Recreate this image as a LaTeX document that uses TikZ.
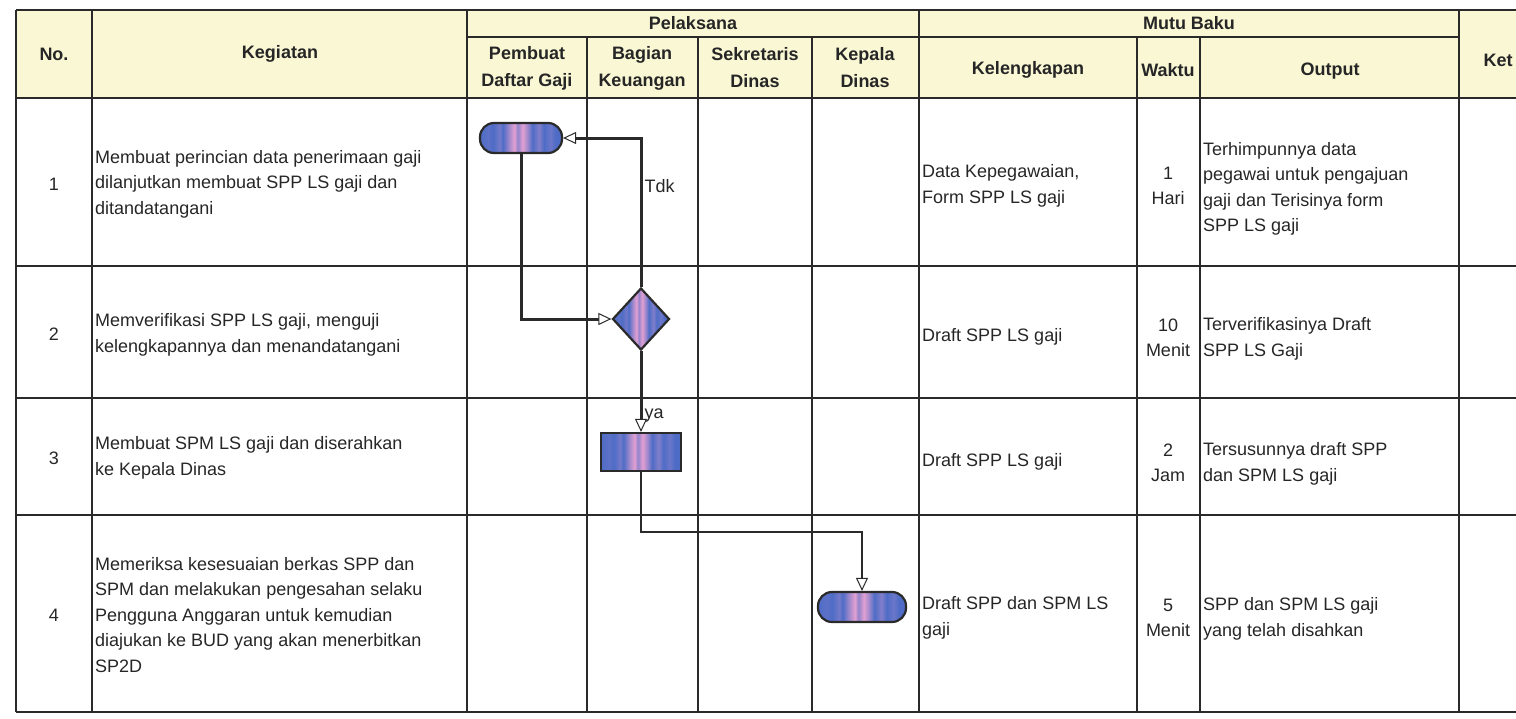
\documentclass[tikz,border=0pt]{standalone}
\usepackage{fontspec}
\setmainfont{Liberation Sans}
\usepackage{tikz}
\usetikzlibrary{positioning}
\usetikzlibrary{arrows.meta,shapes.geometric}

\definecolor{garis}{HTML}{2A2A2A}
\definecolor{kuning}{HTML}{FAF8D4}
\definecolor{biru}{HTML}{4E6CC6}
\definecolor{merahmuda}{HTML}{E2A0D2}

% vertical stripes, as in the scanned flowchart symbols
\pgfdeclarehorizontalshading{garisgaris}{100bp}{%
  color(0bp)=(biru); color(25bp)=(biru); color(30bp)=(biru!90!merahmuda);
  color(33bp)=(biru); color(37bp)=(biru!75!merahmuda); color(39bp)=(biru);
  color(43bp)=(biru!40!merahmuda); color(46bp)=(merahmuda); color(48bp)=(biru!55!merahmuda);
  color(51bp)=(merahmuda); color(54bp)=(biru!45!merahmuda); color(57bp)=(biru);
  color(61bp)=(biru!65!merahmuda); color(64bp)=(biru); color(68bp)=(biru!80!merahmuda);
  color(71bp)=(biru); color(75bp)=(biru); color(100bp)=(biru)}

\tikzset{
  tabel/.style={draw=garis, line width=2.6pt},
  judul/.style={font=\bfseries\fontsize{18}{27}\selectfont, align=center, text=black!85},
  isi/.style={font=\fontsize{18}{25.5}\selectfont, align=left, anchor=west, inner sep=3pt, text=black!85},
  tengah/.style={font=\fontsize{18}{25.5}\selectfont, align=center, text=black!85},
  simbol/.style={draw=garis, line width=2.2pt, shading=garisgaris, inner sep=0pt},
  terminal/.style={simbol, rectangle, rounded corners=14pt, minimum width=88pt, minimum height=30pt},
  proses/.style={simbol, rectangle, minimum width=80pt, minimum height=38pt},
  keputusan/.style={simbol, diamond, minimum width=57pt, minimum height=62pt},
  alur/.style={draw=garis, line width=3pt, -{Triangle[fill=white, length=13pt, width=12pt, line width=1pt]}},
  ket/.style={font=\fontsize{18}{22}\selectfont, text=black!85, inner sep=2pt}
}

\begin{document}
\begin{tikzpicture}[x=1pt, y=-1pt]

	\clip (0,0) rectangle (1516,718);

	% header background
	\fill[kuning] (16,10) rectangle (1550,98);

	% grid of the table
	\draw[tabel] (16,10) -- (1550,10);
	\draw[tabel] (467,37) -- (1459,37);
	\foreach \y in {98,266,398,515,712}
		\draw[tabel] (16,\y) -- (1550,\y);
	\foreach \x in {16,92,467,919,1459}
		\draw[tabel] (\x,10) -- (\x,712);
	\foreach \x in {587,698,812,1137,1200}
		\draw[tabel] (\x,37) -- (\x,712);

	% header
	\node[judul] (hNo)    at (54,54)    {No.};
	\node[judul] (hKeg)   at (280,54)   {Kegiatan};
	\node[judul] (hPel)   at (693,23)   {Pelaksana};
	\node[judul] (hPem)   at (527,68)   {Pembuat\\Daftar Gaji};
	\node[judul] (hBag)   at (642,68)   {Bagian\\Keuangan};
	\node[judul] (hSek)   at (755,68)   {Sekretaris\\Dinas};
	\node[judul] (hKep)   at (865,68)   {Kepala\\Dinas};
	\node[judul] (hMutu)  at (1189,23)  {Mutu Baku};
	\node[judul] (hKel)   at (1028,70)  {Kelengkapan};
	\node[judul] (hWak)   at (1168,70)  {Waktu};
	\node[judul] (hOut)   at (1330,71)  {Output};
	\node[judul] (hKet)   at (1498,60)  {Ket};

	% row numbers
	\node[tengah] (no1) at (54,184) {1};
	\node[tengah] (no2) at (54,334) {2};
	\node[tengah] (no3) at (54,458) {3};
	\node[tengah] (no4) at (54,615) {4};

	% Kegiatan
	\node[isi] (keg1) at (92,184) {Membuat perincian data penerimaan gaji\\dilanjutkan membuat SPP LS gaji dan\\ditandatangani};
	\node[isi] (keg2) at (92,335) {Memverifikasi SPP LS gaji, menguji\\kelengkapannya dan menandatangani};
	\node[isi] (keg3) at (92,458) {Membuat SPM LS gaji dan diserahkan\\ke Kepala Dinas};
	\node[isi] (keg4) at (92,615) {Memeriksa kesesuaian berkas SPP dan\\SPM dan melakukan pengesahan selaku\\Pengguna Anggaran untuk kemudian\\diajukan ke BUD yang akan menerbitkan\\SP2D};

	% Kelengkapan
	\node[isi] (kel1) at (919,186) {Data Kepegawaian,\\Form SPP LS gaji};
	\node[isi] (kel2) at (919,337) {Draft SPP LS gaji};
	\node[isi] (kel3) at (919,462) {Draft SPP LS gaji};
	\node[isi] (kel4) at (919,618) {Draft SPP dan SPM LS\\gaji};

	% Waktu
	\node[tengah] (wak1) at (1168,186) {1\\Hari};
	\node[tengah] (wak2) at (1168,338) {10\\Menit};
	\node[tengah] (wak3) at (1168,463) {2\\Jam};
	\node[tengah] (wak4) at (1168,618) {5\\Menit};

	% Output
	\node[isi] (out1) at (1200,189) {Terhimpunnya data\\pegawai untuk pengajuan\\gaji dan Terisinya form\\SPP LS gaji};
	\node[isi] (out2) at (1200,339) {Terverifikasinya Draft\\SPP LS Gaji};
	\node[isi] (out3) at (1200,464) {Tersusunnya draft SPP\\dan SPM LS gaji};
	\node[isi] (out4) at (1200,619) {SPP dan SPM LS gaji\\yang telah disahkan};

	% flowchart symbols
	\node[terminal, minimum width=82pt] (mulai) at (521,138) {};
	\node[keputusan] (cek)     at (641,319) {};
	\node[proses]    (spm)     at (641,452) {};
	\node[terminal]  (selesai) at (862,607) {};

	% connectors
	\draw[alur] (mulai.south) |- (cek.west);
	\draw[alur] (cek.north) |- (mulai.east) node[ket, pos=0.34, right] {Tdk};
	\draw[alur] (cek.south) -- (spm.north) node[ket, pos=0.8, right] {ya};
	\draw[alur, line width=2pt] (spm.south) -- ++(0,60) -| (selesai.north);

\end{tikzpicture}
\end{document}
